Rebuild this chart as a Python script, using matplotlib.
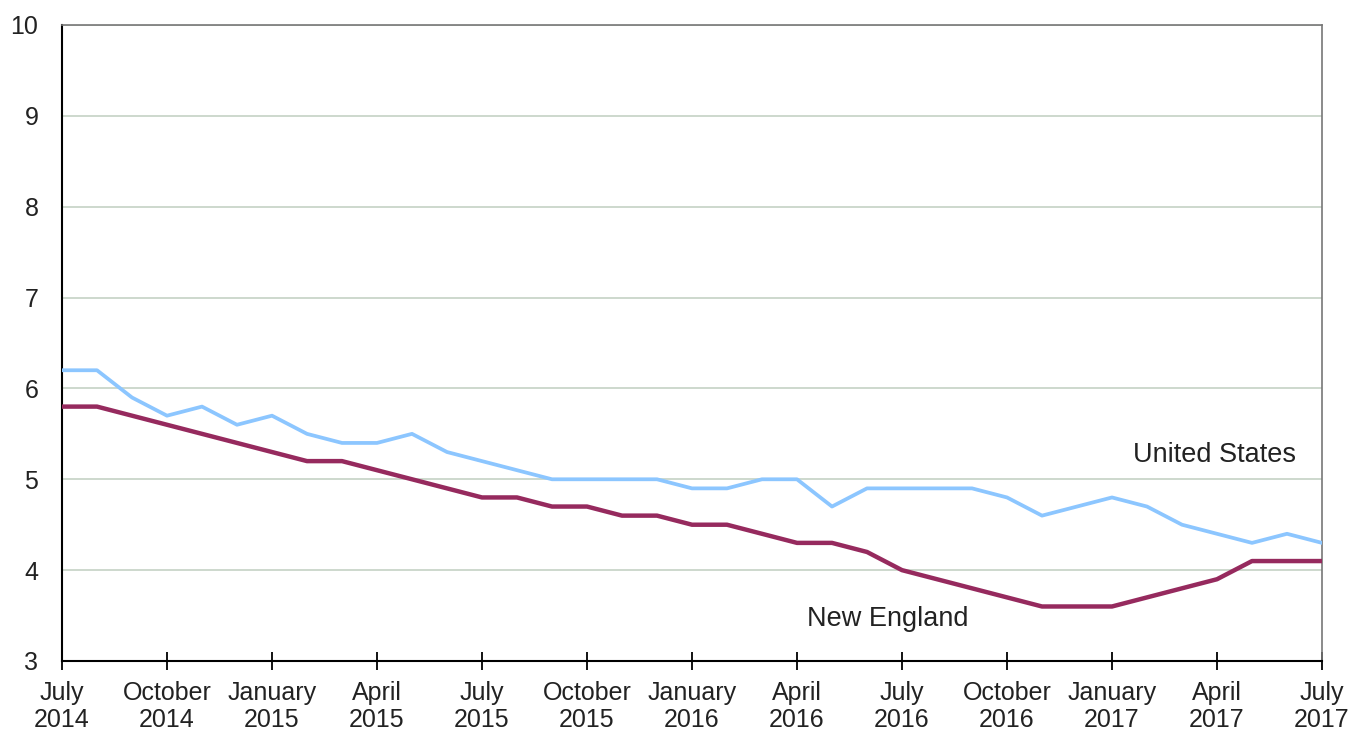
import matplotlib
matplotlib.use("Agg")
import matplotlib.pyplot as plt

plt.rcParams['font.family'] = ['Liberation Sans', 'DejaVu Sans']

months = ["Jul 2014", "Aug 2014", "Sep 2014", "Oct 2014", "Nov 2014", "Dec 2014",
          "Jan 2015", "Feb 2015", "Mar 2015", "Apr 2015", "May 2015", "Jun 2015",
          "Jul 2015", "Aug 2015", "Sep 2015", "Oct 2015", "Nov 2015", "Dec 2015",
          "Jan 2016", "Feb 2016", "Mar 2016", "Apr 2016", "May 2016", "Jun 2016",
          "Jul 2016", "Aug 2016", "Sep 2016", "Oct 2016", "Nov 2016", "Dec 2016",
          "Jan 2017", "Feb 2017", "Mar 2017", "Apr 2017", "May 2017", "Jun 2017",
          "Jul 2017"]

united_states = [6.2, 6.2, 5.9, 5.7, 5.8, 5.6, 5.7, 5.5, 5.4, 5.4, 5.5, 5.3,
                 5.2, 5.1, 5.0, 5.0, 5.0, 5.0, 4.9, 4.9, 5.0, 5.0, 4.7, 4.9,
                 4.9, 4.9, 4.9, 4.8, 4.6, 4.7, 4.8, 4.7, 4.5, 4.4, 4.3, 4.4, 4.3]

new_england = [5.8, 5.8, 5.7, 5.6, 5.5, 5.4, 5.3, 5.2, 5.2, 5.1, 5.0, 4.9,
               4.8, 4.8, 4.7, 4.7, 4.6, 4.6, 4.5, 4.5, 4.4, 4.3, 4.3, 4.2,
               4.0, 3.9, 3.8, 3.7, 3.6, 3.6, 3.6, 3.7, 3.8, 3.9, 4.1, 4.1, 4.1]

tick_labels = ["July\n2014", "October\n2014", "January\n2015", "April\n2015",
               "July\n2015", "October\n2015", "January\n2016", "April\n2016",
               "July\n2016", "October\n2016", "January\n2017", "April\n2017",
               "July\n2017"]
y_ticks = [3, 4, 5, 6, 7, 8, 9, 10]

fig = plt.figure(figsize=(13.56, 7.32), dpi=100)
ax = fig.add_axes([62/1356, 1 - 661/732, (1322 - 62)/1356, (661 - 25)/732])

x = list(range(len(months)))
ax.plot(x, united_states, color='#8cc6ff', lw=2.7, solid_joinstyle='round', zorder=3)
ax.plot(x, new_england, color='#962a5e', lw=3.2, solid_joinstyle='round', zorder=4)

ax.set_xlim(0, len(months) - 1)
ax.set_ylim(3, 10)
ax.set_yticks(y_ticks)
ax.set_yticklabels([str(v) for v in y_ticks])
ax.set_xticks(list(range(0, len(months), 3)))
ax.set_xticklabels(tick_labels, linespacing=1.15)

ax.grid(axis='y', color='#c9d6c9', lw=1.3)
ax.set_axisbelow(True)

for s in ['top', 'right']:
    ax.spines[s].set_color('#777777')
    ax.spines[s].set_linewidth(1.2)
ax.spines['left'].set_color('black')
ax.spines['left'].set_linewidth(1.5)
ax.spines['bottom'].set_color('black')
ax.spines['bottom'].set_linewidth(1.5)

ax.tick_params(axis='x', direction='inout', length=13, width=1.3, pad=8,
               labelsize=18, colors='black', labelcolor='#222222')
ax.tick_params(axis='y', length=0, pad=17, labelsize=18, labelcolor='#222222')

ax.text(35.26, 5.27, "United States", fontsize=19.5, color='#222222',
        ha='right', va='center')
ax.text(23.6, 3.46, "New England", fontsize=19.5, color='#222222',
        ha='center', va='center')

fig.savefig('out.png', dpi=100)
